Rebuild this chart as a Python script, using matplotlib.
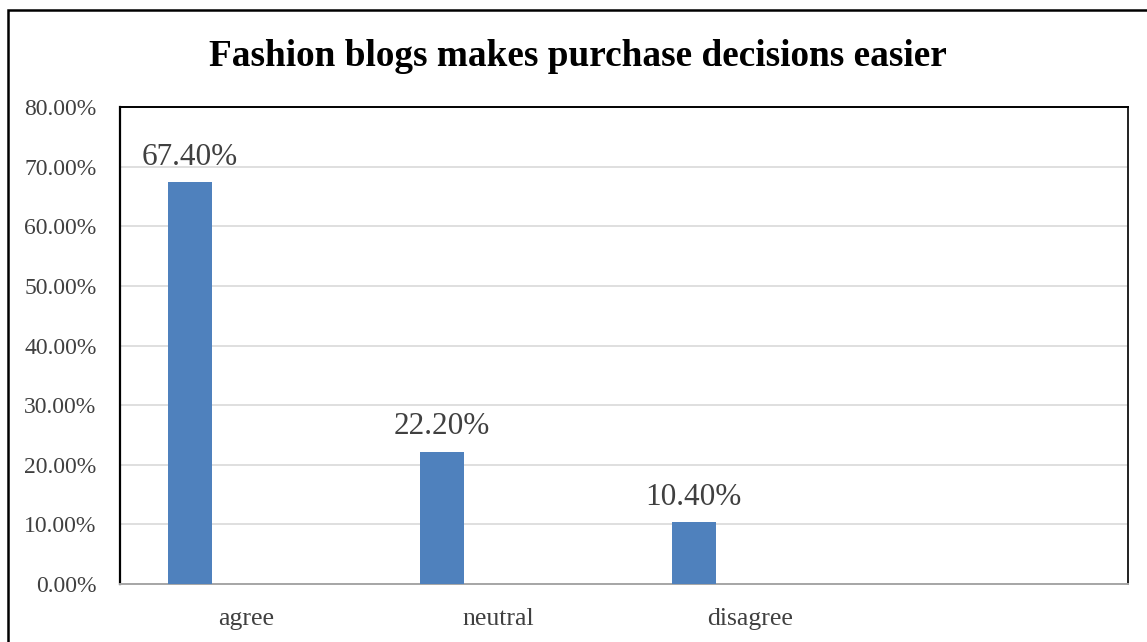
import matplotlib
matplotlib.use("Agg")
import matplotlib.pyplot as plt
from matplotlib.patches import Rectangle
from matplotlib.ticker import FuncFormatter, MultipleLocator

title = "Fashion blogs makes purchase decisions easier"
categories = ["agree", "neutral", "disagree", ""]
values = [67.40, 22.20, 10.40, None]
value_labels = ["67.40%", "22.20%", "10.40%"]

W, H = 1147, 642
fig = plt.figure(figsize=(W / 100, H / 100), dpi=100)
plt.rcParams['font.family'] = ['Liberation Serif', 'DejaVu Serif']

# outer frame
fig.patches.append(Rectangle((8 / W, -0.05), 1.2, (H - 10) / H + 0.05,
                             transform=fig.transFigure, fill=False,
                             edgecolor="black", linewidth=1.8))

left, right, top, bottom = 120, 1128, 107, 584
ax = fig.add_axes([left / W, 1 - bottom / H, (right - left) / W, (bottom - top) / H])

n = len(categories)
slots = list(range(n))
bar_off = 0.277
bar_w = 0.175
xs = [i + bar_off for i, v in enumerate(values) if v is not None]
vs = [v for v in values if v is not None]
ax.bar(xs, vs, width=bar_w, color="#4F81BD", zorder=3)

for x, v, lab in zip(xs, vs, value_labels):
    ax.annotate(lab, (x, v), xytext=(0, 7.5), textcoords="offset points",
                ha="center", va="bottom", fontsize=22.5, color="#404040")

ax.set_xlim(0, n)
ax.set_ylim(0, 80)
ax.yaxis.set_major_locator(MultipleLocator(10))
ax.yaxis.set_major_formatter(FuncFormatter(lambda y, p: f"{y:.2f}%"))
ax.yaxis.grid(True, color="#D9D9D9", linewidth=1.2, zorder=0)
ax.set_axisbelow(True)

ax.set_xticks([i + 0.5 for i in slots])
ax.set_xticklabels(categories)
ax.tick_params(axis="x", length=0, pad=17, labelsize=18.5, labelcolor="#404040")
ax.tick_params(axis="y", length=0, pad=17, labelsize=17, labelcolor="#404040")
for lab in ax.get_yticklabels():
    lab.set_horizontalalignment("right")

ax.spines["left"].set_color("black")
ax.spines["left"].set_linewidth(1.6)
ax.spines["top"].set_color("black")
ax.spines["top"].set_linewidth(1.4)
ax.spines["right"].set_color("#202020")
ax.spines["right"].set_linewidth(1.4)
ax.spines["bottom"].set_color("#A6A6A6")
ax.spines["bottom"].set_linewidth(1.4)

fig.text(0.5 * (W + 8) / W, 1 - 57 / H, title, ha="center", va="center",
         fontsize=26.8, fontweight="bold", color="black")

fig.savefig("out.png", dpi=100)
